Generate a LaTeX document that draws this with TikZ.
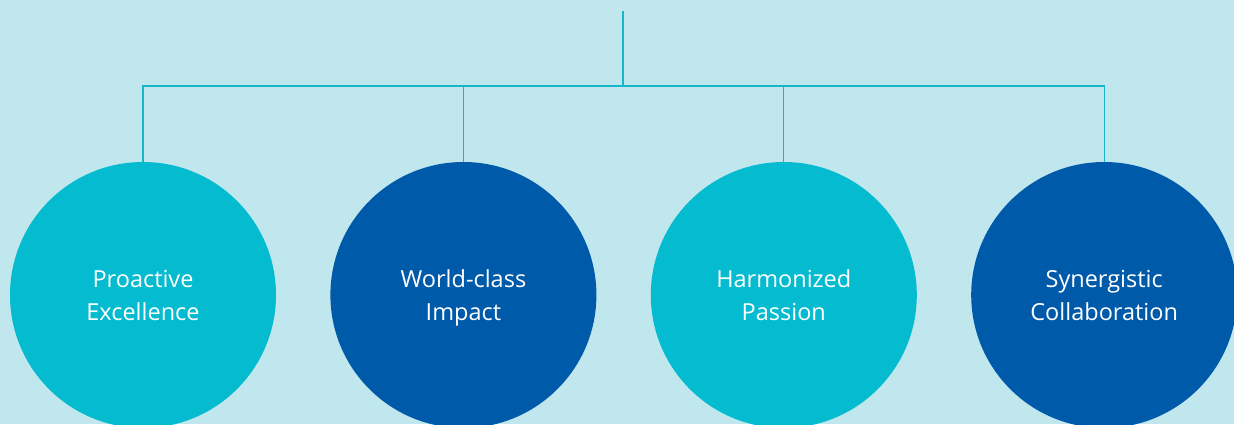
\documentclass[tikz,border=0pt]{standalone}
\usepackage{fontspec}
\setmainfont{Open Sans}
\usetikzlibrary{positioning}
\definecolor{cSky}{HTML}{C0E6EE}
\definecolor{cCyan}{HTML}{04BBCF}
\definecolor{cNavy}{HTML}{005AAA}
\definecolor{cWire}{HTML}{17B6CB}

\begin{document}
\begin{tikzpicture}[x=1pt, y=-1pt, node distance=54pt,
  pillar/.style={circle, fill=#1, draw=none, minimum size=266pt, inner sep=0pt,
    align=center, text=white, text depth=-1pt, font=\fontsize{23.5}{33}\selectfont},
  pillar/.default=cCyan,
  wire/.style={draw=cWire, line width=1.1pt}]
  % background and page frame
  \fill[cSky] (0,0) rectangle (1234,424);
  \useasboundingbox (0,0) rectangle (1234,424);
  % the four circles
  \node[pillar=cCyan] (pro) at (143,295) {Proactive\\Excellence};
  \node[pillar=cNavy, right=of pro] (wci) {World-class\\Impact};
  \node[pillar=cCyan, right=of wci] (hap) {Harmonized\\Passion};
  \node[pillar=cNavy, right=of hap] (syn) {Synergistic\\Collaboration};
  % tree lines
  \coordinate (top) at (623,11);
  \coordinate (hub) at (623,86);
  \draw[wire] (top) -- (hub);
  \foreach \n in {pro,wci,hap,syn}
    \draw[wire] (hub) -| (\n.north);
\end{tikzpicture}
\end{document}
